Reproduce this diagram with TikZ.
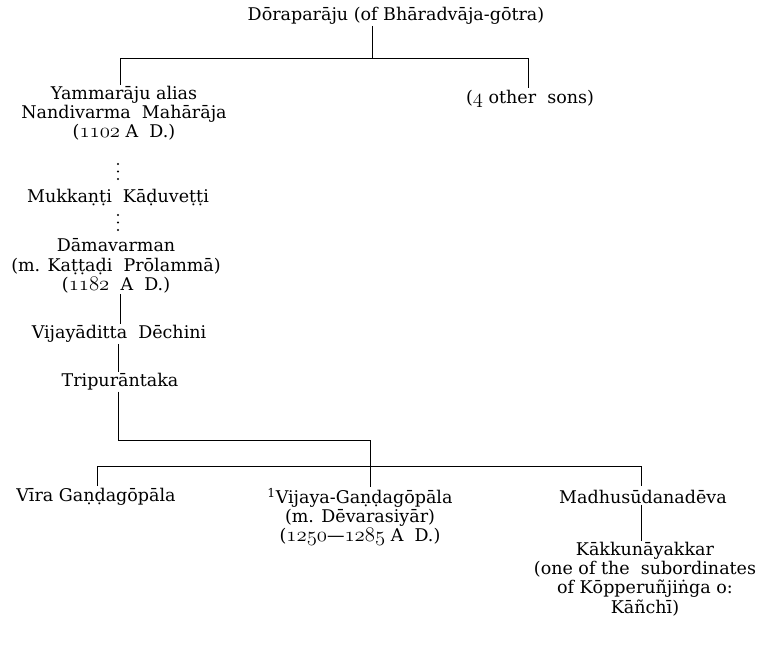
\documentclass[tikz,border=0pt]{standalone}
\usepackage{fontspec}
\setmainfont{DejaVu Serif}
\usetikzlibrary{calc}
% old style figures as in the printed table
\newcommand{\osf}[1]{{\fontsize{20.5}{0}\selectfont$\mathnormal{#1}$}}

\begin{document}
\begin{tikzpicture}[x=1pt,y=-1pt,
	person/.style={align=center,inner sep=1pt,font=\fontsize{17.5}{19.2}\selectfont},
	line/.style={line width=0.8pt},
	dots/.style={line width=2.4pt,line cap=round,dash pattern=on 0pt off 7.5pt}]
	\useasboundingbox (0,0) rectangle (769,648);

	% first generation
	\node[person] (dora) at (396,16) {Dōraparāju (of Bhāradvāja-gōtra)};
	\node[person] (yamma) at (124,113) {Yammarāju alias\\Nandivarma\ \ Mahārāja\\(\osf{1102} A\ \ D.)};
	\node[person] (others) at (530,99) {(\osf{4} other\ \ sons)};

	\coordinate (jtop) at (372,58);
	\draw[line] (dora.south -| jtop) -- (jtop);
	\draw[line] (120,85) -- (120,58) -- (528,58) -- (528,88);

	% main line
	\node[person] (mukk) at (118,198) {Mukkaṇṭi\ \ Kāḍuveṭṭi};
	\node[person] (dama) at (116,266) {Dāmavarman\\(m. Kaṭṭaḍi\ \ Prōlammā)\\(\osf{1182}\ \ A\ \ D.)};
	\node[person] (vijd) at (119,334) {Vijayāditta\ \ Dēchini};
	\node[person] (tripura) at (120,382) {Tripurāntaka};

	\draw[dots] (118,164) -- (118,182);
	\draw[dots] (118,215) -- (118,233);
	\draw[line] (dama.south -| 120,0) -- (vijd.north -| 120,0);
	\draw[line] (vijd.south -| 118,0) -- (tripura.north -| 118,0);

	% last generation
	\node[person] (vira) at (96,497) {Vīra Gaṇḍagōpāla};
	\node[person] (vijg) at (360,517) {\textsuperscript{1}Vijaya-Gaṇḍagōpāla\\(m. Dēvarasiyār)\\(\osf{1250}---\osf{1285} A\ \ D.)};
	\node[person] (madhu) at (643,497) {Madhusūdanadēva};
	\node[person] (kakku) at (645,579) {Kākkunāyakkar\\(one of the\ \ subordinates\\of Kōpperuñjiṅga o:\\Kāñchī)};

	\coordinate (jmid) at (370,440);
	\draw[line] (tripura.south -| 118,0) -- (118,440) -- (jmid) -- (jmid |- vijg.north);
	\draw[line] (97,486) -- (97,466) -- (641,466) -- (641,486);
	\draw[line] (madhu.south -| 641,0) -- (kakku.north -| 641,0);
\end{tikzpicture}
\end{document}
